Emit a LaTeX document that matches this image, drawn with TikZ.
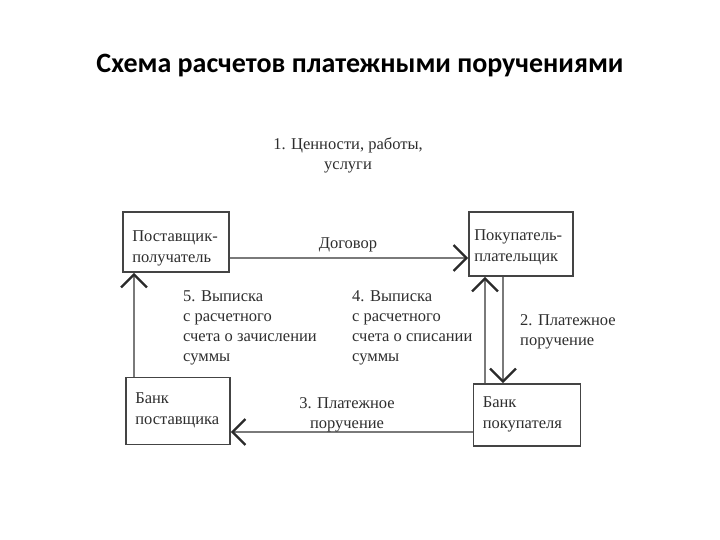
\documentclass[tikz,border=0pt]{standalone}
\usepackage{fontspec}
\setmainfont{Liberation Serif}
\newfontfamily\titlefont{Carlito}
\usetikzlibrary{arrows.meta}
\definecolor{boxcolor}{HTML}{444444}
\definecolor{arrowcolor}{HTML}{7A7A7A}
\definecolor{headcolor}{HTML}{2A2A2A}
\definecolor{textcolor}{HTML}{2E2E2E}
\begin{document}
\begin{tikzpicture}[x=1pt,y=-1pt,
    box/.style={draw=boxcolor,line width=1.8pt,inner sep=0pt},
    boxtext/.style={align=left,inner sep=0pt,text=textcolor,font=\fontsize{16.5}{21}\selectfont},
    lbl/.style={align=left,inner sep=0pt,text=textcolor,font=\fontsize{16.5}{20}\selectfont},
    arr/.style={draw=arrowcolor,line width=2.8pt,
      -{Straight Barb[length=13pt,width=26pt,line width=2.2pt,color=headcolor]}}]
\useasboundingbox[fill=white] (0,0) rectangle (720,540);
   \node (title) at (360,66) {\titlefont\bfseries\fontsize{28}{32}\selectfont Схема расчетов платежными поручениями};
%% boxes
   \node[box,minimum width=106pt,minimum height=60pt] (post) at (176,242) {};
   \node[box,minimum width=104pt,minimum height=64pt] (pok) at (521,244) {};
   \node[box,minimum width=104pt,minimum height=67pt] (bankp) at (178,411) {};
   \node[box,minimum width=107pt,minimum height=62pt] (bankk) at (527,415) {};
   \node[boxtext,anchor=north west] (posttxt) at ([shift={(10,19)}]post.north west) {Поставщик-\\получатель};
   \node[boxtext,anchor=north west] (poktxt) at ([shift={(6,18)}]pok.north west) {Покупатель-\\плательщик};
   \node[boxtext,anchor=north west] (bankptxt) at ([shift={(10,16)}]bankp.north west) {Банк\\поставщика};
   \node[boxtext,anchor=north west] (bankktxt) at ([shift={(10,13)}]bankk.north west) {Банк\\покупателя};
%% connectors
   \draw[arr] (post.east |- 0,258) -- (pok.west |- 0,258);
   \draw[arr] (bankp.north -| 134,0) -- (post.south -| 134,0);
   \draw[arr] (bankk.north -| 485,0) -- (pok.south -| 485,0);
   \draw[arr] (pok.south -| 503,0) -- (bankk.north -| 503,0);
   \draw[arr] (bankk.west |- 0,432) -- (bankp.east |- 0,432);
%% labels
   \node[lbl,align=center] (l1) at (348,155) {1. Ценности, работы,\\услуги};
   \node[lbl] (ldog) at (348,245) {Договор};
   \node[lbl,anchor=north west] (l5) at (183,290) {5. Выписка\\с расчетного\\счета о зачислении\\суммы};
   \node[lbl,anchor=north west] (l4) at (352,290) {4. Выписка\\с расчетного\\счета о списании\\суммы};
   \node[lbl,anchor=north west] (l2) at (520,314) {2. Платежное\\поручение};
   \node[lbl,align=center] (l3) at (347,415) {3. Платежное\\поручение};
\end{tikzpicture}
\end{document}
